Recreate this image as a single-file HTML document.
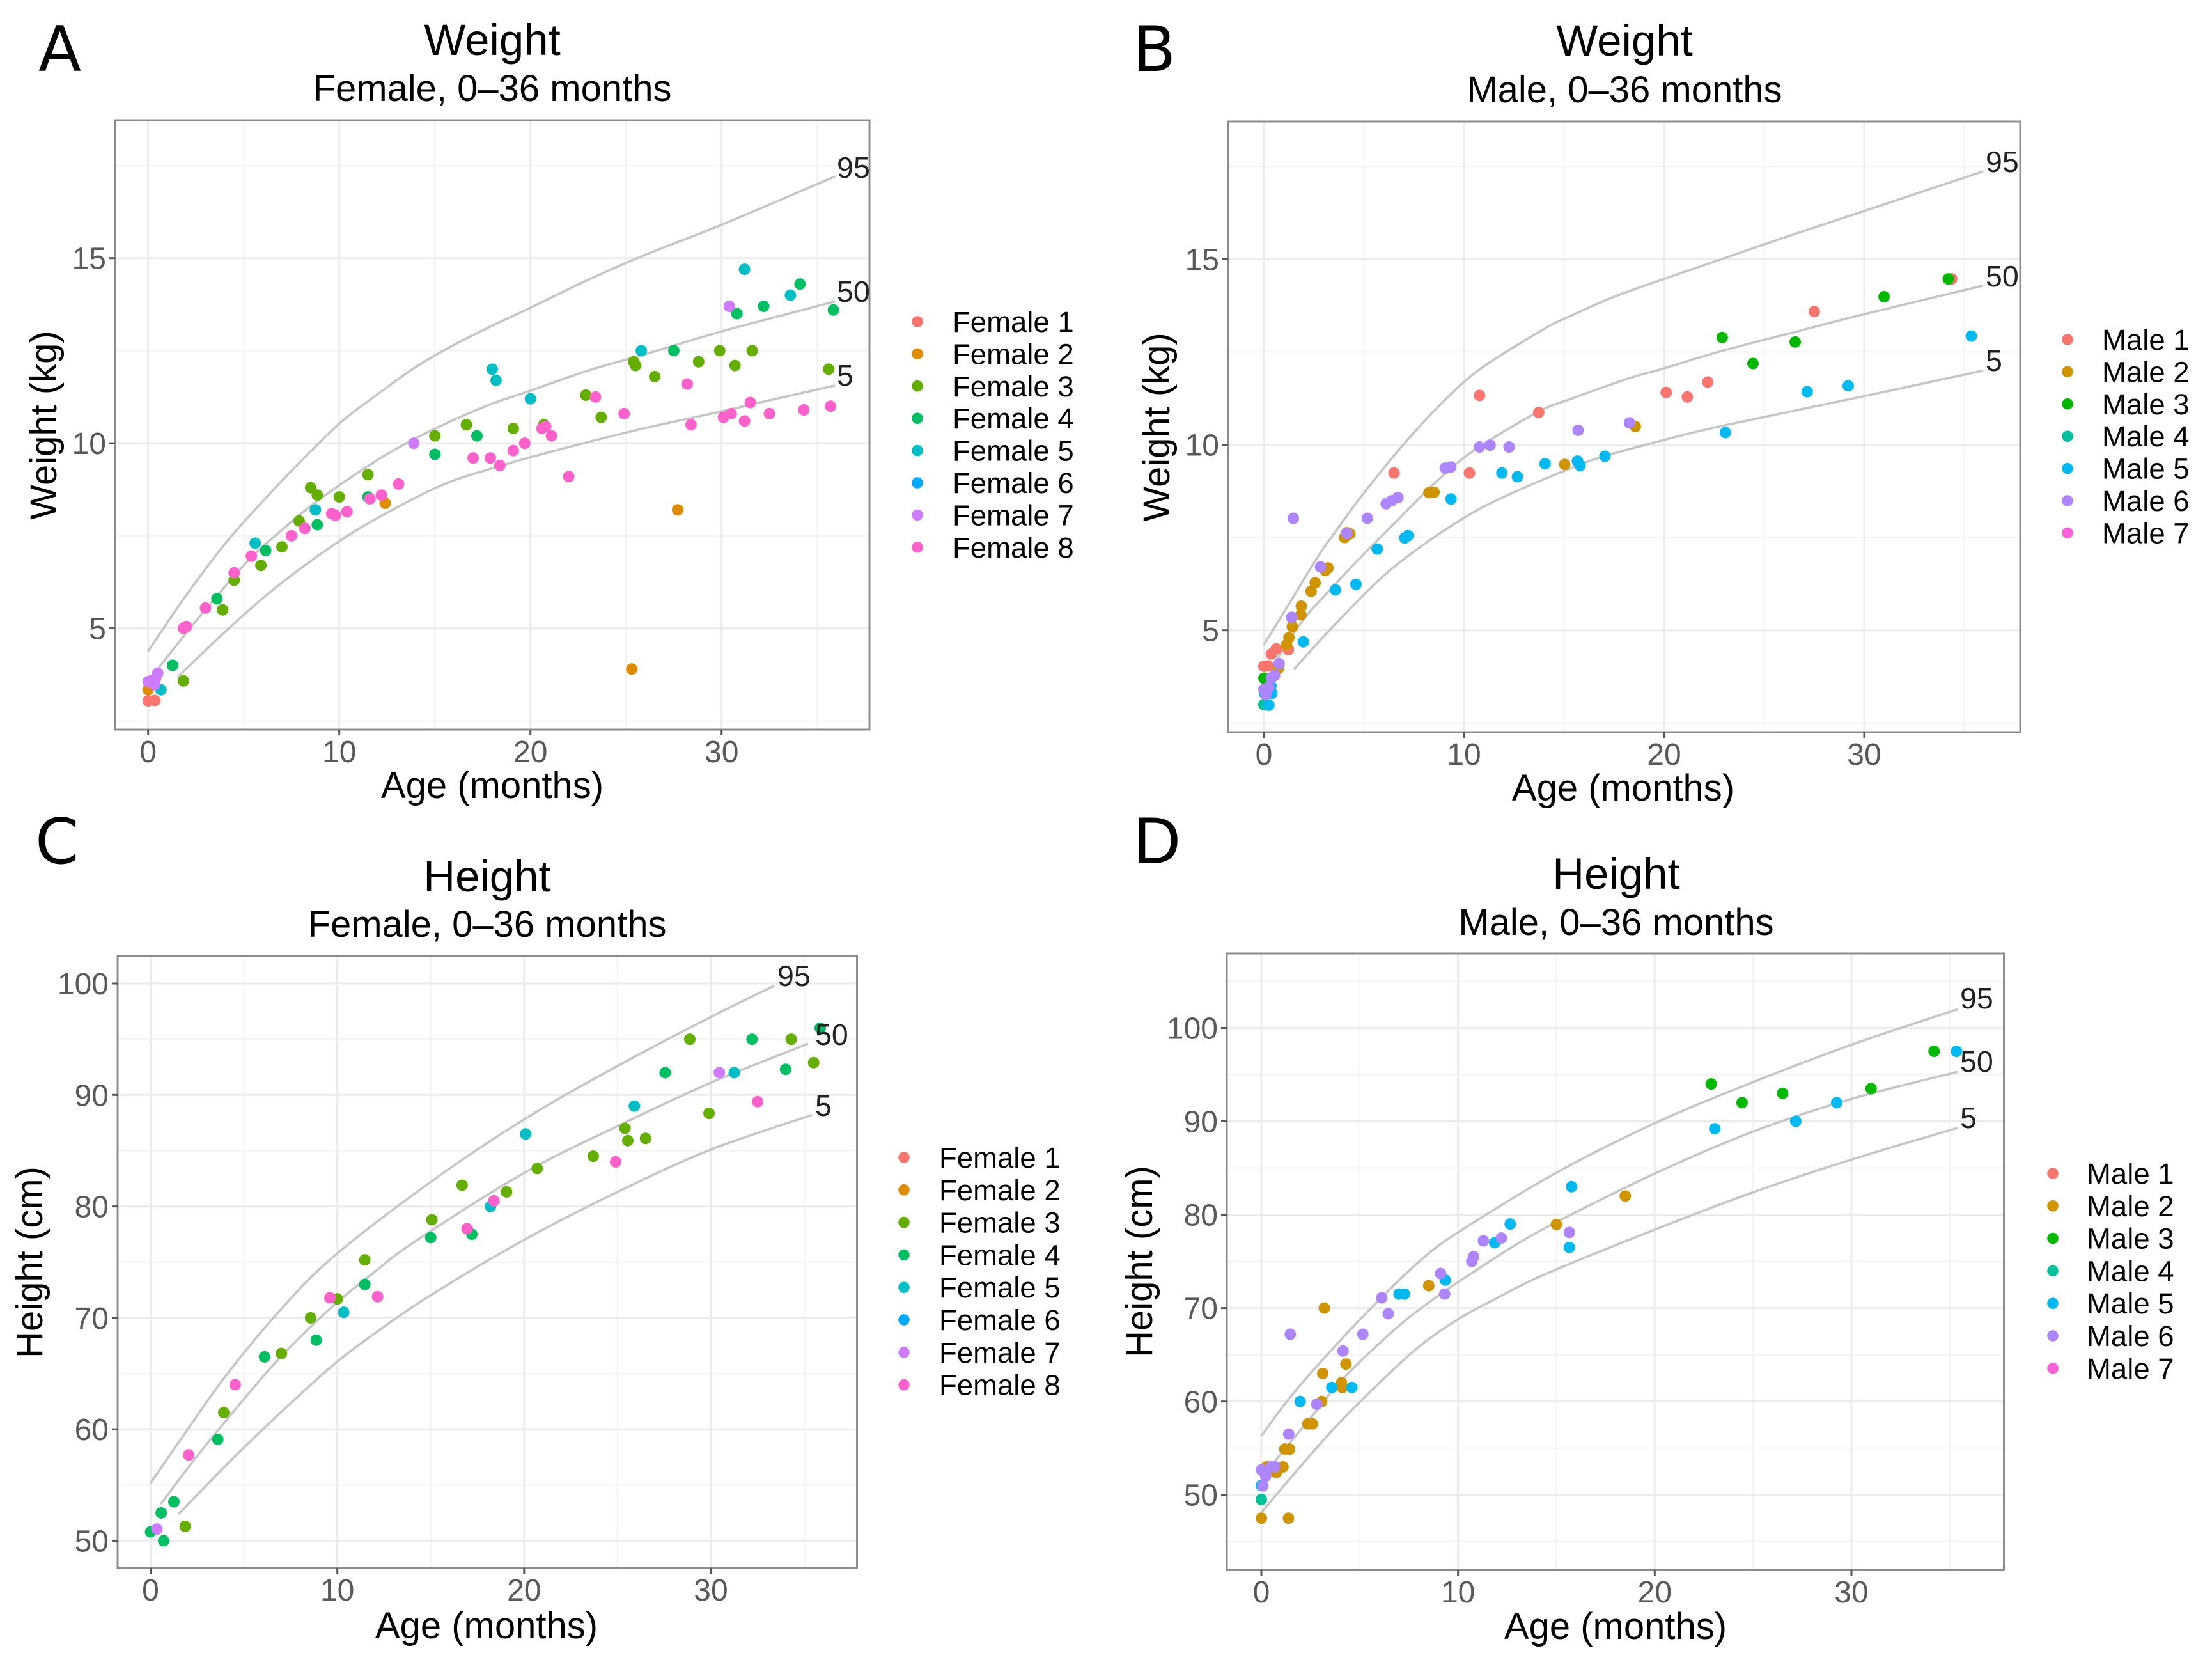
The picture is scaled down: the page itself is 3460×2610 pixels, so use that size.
<!DOCTYPE html>
<html lang="en">
<head>
<meta charset="utf-8">
<title>Growth charts: weight and height, 0–36 months</title>
<style>
html,body{margin:0;padding:0;background:#fff;}
svg{display:block;}
text{font-family:"Liberation Sans",sans-serif;fill:#000;}
.letter{font-family:"DejaVu Sans",sans-serif;font-size:98px;}
.title{font-size:69px;text-anchor:middle;}
.subtitle{font-size:58px;text-anchor:middle;}
.axis-title{font-size:58px;text-anchor:middle;}
.legend-label{font-size:45.5px;}
.curve-label{font-size:46.5px;fill:#222;}
.tick-label{font-size:48px;fill:#595959;}
</style>
</head>
<body>
<svg xmlns="http://www.w3.org/2000/svg" width="3460" height="2610" viewBox="0 0 3460 2610">
<rect width="3460" height="2610" fill="#fff"/>

<g>
  <text class="letter" x="60" y="111">A</text>
  <text class="title" x="770" y="86">Weight</text>
  <text class="subtitle" x="770" y="158">Female, 0–36 months</text>
  <g id="marks-a"></g>
  <text class="curve-label" x="1309" y="278">95</text>
  <text class="curve-label" x="1309" y="472">50</text>
  <text class="curve-label" x="1309" y="603">5</text>
  <text class="axis-title" x="770" y="1248">Age (months)</text>
  <text class="axis-title" transform="translate(88,665) rotate(-90)">Weight (kg)</text>
  <g>
    <g><circle cx="1435" cy="503" r="8.8" fill="#F8766D"/><text class="legend-label" x="1490" y="519">Female 1</text></g>
    <g><circle cx="1435" cy="553.4" r="8.8" fill="#DE8C00"/><text class="legend-label" x="1490" y="569.4">Female 2</text></g>
    <g><circle cx="1435" cy="603.8" r="8.8" fill="#64AE00"/><text class="legend-label" x="1490" y="619.8">Female 3</text></g>
    <g><circle cx="1435" cy="654.2" r="8.8" fill="#00BF63"/><text class="legend-label" x="1490" y="670.2">Female 4</text></g>
    <g><circle cx="1435" cy="704.6" r="8.8" fill="#00BFC4"/><text class="legend-label" x="1490" y="720.6">Female 5</text></g>
    <g><circle cx="1435" cy="755" r="8.8" fill="#00A9FF"/><text class="legend-label" x="1490" y="771">Female 6</text></g>
    <g><circle cx="1435" cy="805.4" r="8.8" fill="#CF7BFF"/><text class="legend-label" x="1490" y="821.4">Female 7</text></g>
    <g><circle cx="1435" cy="855.8" r="8.8" fill="#FF61CC"/><text class="legend-label" x="1490" y="871.8">Female 8</text></g>
  </g>
</g>

<g>
  <text class="letter" x="1772" y="111">B</text>
  <text class="title" x="2541" y="87">Weight</text>
  <text class="subtitle" x="2541" y="160">Male, 0–36 months</text>
  <g id="marks-b"></g>
  <text class="curve-label" x="3106" y="269">95</text>
  <text class="curve-label" x="3106" y="448">50</text>
  <text class="curve-label" x="3106" y="580">5</text>
  <text class="axis-title" x="2539" y="1252">Age (months)</text>
  <text class="axis-title" transform="translate(1829,668) rotate(-90)">Weight (kg)</text>
  <g>
    <g><circle cx="3234" cy="531" r="8.8" fill="#F8766D"/><text class="legend-label" x="3288" y="547">Male 1</text></g>
    <g><circle cx="3234" cy="581.4" r="8.8" fill="#CF9400"/><text class="legend-label" x="3288" y="597.4">Male 2</text></g>
    <g><circle cx="3234" cy="631.8" r="8.8" fill="#00B800"/><text class="legend-label" x="3288" y="647.8">Male 3</text></g>
    <g><circle cx="3234" cy="682.2" r="8.8" fill="#00C19A"/><text class="legend-label" x="3288" y="698.2">Male 4</text></g>
    <g><circle cx="3234" cy="732.6" r="8.8" fill="#00B9F0"/><text class="legend-label" x="3288" y="748.6">Male 5</text></g>
    <g><circle cx="3234" cy="783" r="8.8" fill="#AD85FF"/><text class="legend-label" x="3288" y="799">Male 6</text></g>
    <g><circle cx="3234" cy="833.4" r="8.8" fill="#FB61D7"/><text class="legend-label" x="3288" y="849.4">Male 7</text></g>
  </g>
</g>

<g>
  <text class="letter" x="55" y="1350">C</text>
  <text class="title" x="762" y="1394">Height</text>
  <text class="subtitle" x="762" y="1465">Female, 0–36 months</text>
  <g id="marks-c"></g>
  <text class="curve-label" x="1216" y="1542">95</text>
  <text class="curve-label" x="1275" y="1634">50</text>
  <text class="curve-label" x="1275" y="1745">5</text>
  <text class="axis-title" x="761" y="2562">Age (months)</text>
  <text class="axis-title" transform="translate(66,1974) rotate(-90)">Height (cm)</text>
  <g>
    <g><circle cx="1414" cy="1810" r="8.8" fill="#F8766D"/><text class="legend-label" x="1469" y="1826">Female 1</text></g>
    <g><circle cx="1414" cy="1860.8" r="8.8" fill="#DE8C00"/><text class="legend-label" x="1469" y="1876.8">Female 2</text></g>
    <g><circle cx="1414" cy="1911.6" r="8.8" fill="#64AE00"/><text class="legend-label" x="1469" y="1927.6">Female 3</text></g>
    <g><circle cx="1414" cy="1962.4" r="8.8" fill="#00BF63"/><text class="legend-label" x="1469" y="1978.4">Female 4</text></g>
    <g><circle cx="1414" cy="2013.2" r="8.8" fill="#00BFC4"/><text class="legend-label" x="1469" y="2029.2">Female 5</text></g>
    <g><circle cx="1414" cy="2064" r="8.8" fill="#00A9FF"/><text class="legend-label" x="1469" y="2080">Female 6</text></g>
    <g><circle cx="1414" cy="2114.8" r="8.8" fill="#CF7BFF"/><text class="legend-label" x="1469" y="2130.8">Female 7</text></g>
    <g><circle cx="1414" cy="2165.6" r="8.8" fill="#FF61CC"/><text class="legend-label" x="1469" y="2181.6">Female 8</text></g>
  </g>
</g>

<g>
  <text class="letter" x="1772" y="1350">D</text>
  <text class="title" x="2528" y="1390">Height</text>
  <text class="subtitle" x="2528" y="1462">Male, 0–36 months</text>
  <g id="marks-d"></g>
  <text class="curve-label" x="3066" y="1577">95</text>
  <text class="curve-label" x="3066" y="1676">50</text>
  <text class="curve-label" x="3066" y="1764">5</text>
  <text class="axis-title" x="2527" y="2563">Age (months)</text>
  <text class="axis-title" transform="translate(1802,1973) rotate(-90)">Height (cm)</text>
  <g>
    <g><circle cx="3211" cy="1835" r="8.8" fill="#F8766D"/><text class="legend-label" x="3264" y="1851">Male 1</text></g>
    <g><circle cx="3211" cy="1885.8" r="8.8" fill="#CF9400"/><text class="legend-label" x="3264" y="1901.8">Male 2</text></g>
    <g><circle cx="3211" cy="1936.6" r="8.8" fill="#00B800"/><text class="legend-label" x="3264" y="1952.6">Male 3</text></g>
    <g><circle cx="3211" cy="1987.4" r="8.8" fill="#00C19A"/><text class="legend-label" x="3264" y="2003.4">Male 4</text></g>
    <g><circle cx="3211" cy="2038.2" r="8.8" fill="#00B9F0"/><text class="legend-label" x="3264" y="2054.2">Male 5</text></g>
    <g><circle cx="3211" cy="2089" r="8.8" fill="#AD85FF"/><text class="legend-label" x="3264" y="2105">Male 6</text></g>
    <g><circle cx="3211" cy="2139.8" r="8.8" fill="#FB61D7"/><text class="legend-label" x="3264" y="2155.8">Male 7</text></g>
  </g>
</g>
</svg>

<script>
/* ---------- shared axis values ---------- */
const ageMajorTicks = [0, 10, 20, 30];
const ageMinorTicks = [5, 15, 25, 35];
const weightMajorTicks = [5, 10, 15];
const weightMinorTicks = [2.5, 7.5, 12.5, 17.5];
const heightMajorTicks = [50, 60, 70, 80, 90, 100];
const heightMinorTicksC = [55, 65, 75, 85, 95];
const heightMinorTicksD = [45, 55, 65, 75, 85, 95, 105];

/* ---------- Panel A: weight, female ---------- */
const aP95Age = [0, 1.62, 3.07, 4.29, 5.6, 7.66, 10, 11.76, 13.8, 15.86, 17.9, 20, 23, 26.1, 30, 35.94];
const aP95Kg = [4.38, 5.62, 6.65, 7.45, 8.21, 9.34, 10.53, 11.23, 11.99, 12.62, 13.15, 13.66, 14.41, 15.11, 15.9, 17.21];
const aP50Age = [0.56, 2.73, 5.18, 7.05, 8.9, 11.76, 13.8, 15.86, 17.9, 20, 23, 26.1, 30, 35.94];
const aP50Kg = [3.94, 5.34, 6.8, 7.68, 8.46, 9.47, 10.08, 10.6, 11.05, 11.42, 11.96, 12.42, 13.02, 13.83];
const aP5Age = [1.56, 3.85, 6.08, 8.3, 10.84, 13.8, 15.86, 18.3, 20, 23, 26.1, 30, 32.25, 35.94];
const aP5Kg = [3.69, 4.82, 5.85, 6.74, 7.63, 8.48, 8.97, 9.37, 9.62, 10.03, 10.42, 10.86, 11.13, 11.56];

const aF1Age = [0, 0.35];
const aF1Kg = [3.04, 3.05];
const aF2Age = [0, 12.4, 25.3, 27.7];
const aF2Kg = [3.34, 8.38, 3.9, 8.2];
const aF3Age = [1.85, 3.9, 4.5, 5.9, 7, 7.9, 8.5, 8.85, 10, 11.5, 15, 16.65, 19.1, 20.7, 22.9, 23.7, 25.4, 25.5, 26.5, 28.8, 29.9, 30.7, 31.6, 35.6];
const aF3Kg = [3.58, 5.5, 6.3, 6.7, 7.2, 7.9, 8.8, 8.6, 8.55, 9.15, 10.2, 10.5, 10.4, 10.5, 11.3, 10.7, 12.2, 12.1, 11.8, 12.2, 12.5, 12.1, 12.5, 12.0];
const aF4Age = [1.28, 3.6, 6.15, 8.85, 11.5, 15, 17.2, 27.5, 30.8, 32.2, 34.1, 35.85];
const aF4Kg = [4.0, 5.8, 7.1, 7.8, 8.55, 9.7, 10.2, 12.5, 13.5, 13.7, 14.3, 13.6];
const aF5Age = [0.67, 5.6, 8.75, 18, 18.2, 20, 25.8, 31.2, 33.6];
const aF5Kg = [3.34, 7.3, 8.2, 12.0, 11.7, 11.2, 12.5, 14.7, 14.0];
const aF6Age = [];
const aF6Kg = [];
const aF7Age = [0, 0.22, 0.33, 0.39, 0.5, 13.9, 30.4];
const aF7Kg = [3.56, 3.6, 3.48, 3.65, 3.79, 10, 13.7];
const aF8Age = [1.85, 2, 3, 4.5, 5.4, 7.5, 8.2, 9.6, 9.8, 10.4, 11.6, 12.2, 13.1, 17, 17.9, 18.4, 19.1, 19.7, 20.6, 20.8, 21.1, 22, 23.4, 24.9, 28.2, 28.4, 30.1, 30.5, 31.2, 31.5, 32.5, 34.3, 35.7];
const aF8Kg = [5.0, 5.05, 5.55, 6.5, 6.95, 7.5, 7.7, 8.1, 8.05, 8.15, 8.5, 8.6, 8.9, 9.6, 9.6, 9.4, 9.8, 10, 10.4, 10.45, 10.2, 9.1, 11.25, 10.8, 11.6, 10.5, 10.7, 10.8, 10.6, 11.1, 10.8, 10.9, 11.0];

/* ---------- Panel B: weight, male ---------- */
const bP95Age = [0, 1.15, 2.75, 3.5, 4.85, 6.95, 8.63, 10.7, 13.9, 15.36, 17.46, 20, 22.7, 25.86, 30, 35.95];
const bP95Kg = [4.61, 5.62, 7.03, 7.6, 8.6, 9.99, 10.98, 12, 13.09, 13.48, 13.98, 14.47, 14.97, 15.56, 16.3, 17.37];
const bP50Age = [0.4, 1.84, 3.18, 5, 6.7, 8.56, 10.5, 13.68, 15.36, 18.3, 20, 22.9, 26.9, 30, 35.95];
const bP50Kg = [4.0, 5.19, 6.02, 7.06, 7.98, 8.98, 9.85, 10.88, 11.24, 11.8, 12.06, 12.53, 13.09, 13.52, 14.29];
const bP5Age = [1.5, 3.45, 5.6, 7.2, 9.26, 11.15, 13.68, 15.78, 17, 20, 22.9, 30, 35.95];
const bP5Kg = [3.95, 5.1, 6.28, 7, 7.78, 8.38, 9.0, 9.46, 9.69, 10.13, 10.51, 11.31, 12];

const bM1Age = [0, 0.2, 0.37, 0.62, 1.22, 6.5, 10.27, 10.77, 13.73, 20.1, 21.16, 22.18, 27.5, 34.37];
const bM1Kg = [4.03, 4.04, 4.36, 4.5, 4.48, 9.24, 9.24, 11.33, 10.87, 11.41, 11.29, 11.69, 13.59, 14.47];
const bM2Age = [0.72, 1.13, 1.25, 1.42, 1.85, 1.87, 2.36, 2.56, 3.07, 3.2, 4.03, 4.14, 4.3, 8.25, 8.5, 15.03, 18.56];
const bM2Kg = [3.97, 4.61, 4.8, 5.1, 5.42, 5.65, 6.05, 6.28, 6.61, 6.68, 7.5, 7.63, 7.6, 8.71, 8.72, 9.47, 10.49];
const bM3Age = [0, 22.9, 24.44, 26.55, 30.99, 34.2];
const bM3Kg = [3.71, 12.89, 12.19, 12.77, 13.99, 14.47];
const bM4Age = [0];
const bM4Kg = [3.0];
const bM5Age = [0.25, 0.03, 0.35, 0.4, 1.97, 3.57, 4.6, 5.66, 7.04, 7.2, 9.35, 11.89, 12.67, 14.05, 15.67, 15.8, 17.04, 23.06, 27.15, 29.2, 35.35];
const bM5Kg = [2.98, 3.3, 3.5, 3.3, 4.69, 6.09, 6.24, 7.19, 7.49, 7.55, 8.54, 9.24, 9.14, 9.49, 9.56, 9.44, 9.69, 10.33, 11.43, 11.59, 12.93];
const bM6Age = [1.47, 5.17, 4.14, 2.83, 1.39, 0.76, 0.53, 0.37, 0, 0.25, 0.09, 6.11, 6.38, 6.7, 9.06, 9.34, 10.77, 11.3, 12.25, 15.7, 18.27];
const bM6Kg = [8.02, 8.02, 7.61, 6.71, 5.35, 4.1, 3.78, 3.72, 3.41, 3.47, 3.26, 8.41, 8.49, 8.58, 9.37, 9.4, 9.94, 9.99, 9.94, 10.39, 10.59];
const bM7Age = [];
const bM7Kg = [];

/* ---------- Panel C: height, female ---------- */
const cP95Age = [0, 2.03, 3.96, 6.58, 9.66, 15, 20, 25, 30, 33.4];
const cP95Cm = [55.18, 60.1, 64.65, 70.0, 75.3, 82.2, 87.8, 92.6, 97, 99.8];
const cP50Age = [0.55, 2.26, 4.3, 6.8, 9.66, 11.9, 14.2, 20, 25, 30, 35.2];
const cP50Cm = [53.3, 57.1, 61.3, 66.2, 70.9, 74.0, 76.9, 83, 87.2, 91.1, 94.6];
const cP5Age = [1.5, 4, 6.2, 9.66, 12.5, 15.35, 20, 25, 30, 35.4];
const cP5Cm = [52.4, 56.7, 60.3, 65.6, 69.2, 72.4, 77, 81.3, 85.1, 88.2];

const cF3Age = [1.85, 3.92, 7, 8.57, 10, 11.47, 15.06, 16.68, 19.06, 20.7, 23.7, 25.4, 25.55, 26.5, 28.87, 29.9, 34.3, 35.5];
const cF3Cm = [51.3, 61.5, 66.8, 70, 71.7, 75.2, 78.8, 81.9, 81.3, 83.4, 84.5, 87, 85.9, 86.1, 95, 88.35, 95, 92.9];
const cF4Age = [0, 0.57, 0.7, 1.25, 3.6, 6.1, 8.87, 11.47, 15, 17.2, 27.55, 32.2, 34, 35.85];
const cF4Cm = [50.8, 52.5, 50, 53.5, 59.1, 66.5, 68, 73, 77.2, 77.5, 92, 95, 92.3, 96];
const cF5Age = [10.34, 18.2, 20.08, 25.9, 31.25];
const cF5Cm = [70.5, 80, 86.5, 89, 92];
const cF7Age = [0.34, 30.45];
const cF7Cm = [51.05, 92];
const cF8Age = [2.04, 4.53, 9.6, 12.15, 16.94, 18.38, 24.9, 32.5];
const cF8Cm = [57.7, 64, 71.8, 71.9, 78, 80.5, 84, 89.4];

/* ---------- Panel D: height, male ---------- */
const dP95Age = [0, 1.52, 3.69, 5.86, 8.03, 10, 15, 20, 25, 30, 35.4];
const dP95Cm = [56.3, 60.6, 65.8, 70.6, 75, 78.1, 84.5, 89.8, 94.2, 98.2, 102];
const dP50Age = [0.65, 2.6, 4.23, 6.94, 9.11, 10.74, 12.8, 15, 20, 25, 30, 35.4];
const dP50Cm = [53.5, 58.5, 62.6, 68, 71.5, 73.8, 76.6, 79.2, 84.4, 88.9, 92.4, 95.3];
const dP5Age = [0, 1.52, 3.69, 5.86, 8.03, 10, 11.82, 14.5, 20, 25, 30, 35.4];
const dP5Cm = [48.1, 51.9, 57.1, 61.7, 65.9, 68.8, 70.9, 73.7, 78.4, 82.4, 85.9, 89.3];

const dM2Age = [0, 1.38, 0.76, 1.1, 0.27, 1.19, 1.43, 2.36, 2.6, 3.07, 3.12, 3.2, 4.07, 4.12, 4.3, 8.51, 15, 18.5];
const dM2Cm = [47.5, 47.5, 52.4, 53, 53, 54.9, 54.9, 57.6, 57.6, 60, 63, 70, 62, 61.5, 64, 72.4, 78.95, 82];
const dM3Age = [22.87, 24.44, 26.5, 31, 34.2];
const dM3Cm = [94, 92, 93, 93.5, 97.5];
const dM4Age = [0];
const dM4Cm = [49.5];
const dM5Age = [0, 1.97, 3.58, 4.6, 7, 7.27, 9.35, 11.86, 12.65, 15.66, 15.77, 23.05, 27.17, 29.25, 35.34];
const dM5Cm = [51, 60, 61.5, 61.5, 71.5, 71.5, 73, 77, 79, 76.5, 83, 89.2, 90, 92, 97.5];
const dM6Age = [0, 0.22, 0.08, 0.49, 0.67, 1.39, 1.47, 2.82, 4.15, 5.16, 6.12, 6.45, 9.11, 9.32, 10.7, 10.79, 11.29, 12.2, 15.66];
const dM6Cm = [52.67, 52, 50.96, 53, 53, 56.5, 67.2, 59.7, 65.4, 67.2, 71.1, 69.4, 73.7, 71.5, 75, 75.5, 77.2, 77.5, 78.1];

/* ---------- drawing ---------- */
const SVG_NS = 'http://www.w3.org/2000/svg';

function gridLine(root, x1, y1, x2, y2, major) {
  const el = document.createElementNS(SVG_NS, 'line');
  
  
  el.setAttribute('x1', x1);
  el.setAttribute('y1', y1);
  el.setAttribute('x2', x2);
  el.setAttribute('y2', y2);
  el.setAttribute('stroke', major ? '#ececec' : '#f4f4f4');
  el.setAttribute('stroke-width', major ? 3.2 : 2.4);
  root.appendChild(el);
}

function tickMark(root, x1, y1, x2, y2) {
  const el = document.createElementNS(SVG_NS, 'line');
  
  
  el.setAttribute('x1', x1);
  el.setAttribute('y1', y1);
  el.setAttribute('x2', x2);
  el.setAttribute('y2', y2);
  el.setAttribute('stroke', '#555');
  el.setAttribute('stroke-width', 3);
  root.appendChild(el);
}

function tickLabel(root, x, y, anchor, value) {
  const el = document.createElementNS(SVG_NS, 'text');
  
  
  el.setAttribute('class', 'tick-label');
  el.setAttribute('x', x);
  el.setAttribute('y', y);
  el.setAttribute('text-anchor', anchor);
  el.textContent = String(value);
  root.appendChild(el);
}

function smoothPath(px) {
  let d = 'M' + px[0][0].toFixed(1) + ' ' + px[0][1].toFixed(1);
  for (let i = 0; i < px.length - 1; i++) {
    const p0 = px[Math.max(0, i - 1)], p1 = px[i], p2 = px[i + 1], p3 = px[Math.min(px.length - 1, i + 2)];
    const c1x = p1[0] + (p2[0] - p0[0]) / 6, c1y = p1[1] + (p2[1] - p0[1]) / 6;
    const c2x = p2[0] - (p3[0] - p1[0]) / 6, c2y = p2[1] - (p3[1] - p1[1]) / 6;
    d += 'C' + c1x.toFixed(1) + ' ' + c1y.toFixed(1) + ' ' + c2x.toFixed(1) + ' ' + c2y.toFixed(1) + ' ' + p2[0].toFixed(1) + ' ' + p2[1].toFixed(1);
  }
  return d;
}

function drawPanel(cfg) {
  const root = document.getElementById(cfg.id);
  const xScale = v => cfg.x0 + (v - 0) * (cfg.x30 - cfg.x0) / 30;
  const yScale = v => cfg.yA + (v - cfg.vA) * (cfg.yB - cfg.yA) / (cfg.vB - cfg.vA);

  const bg = document.createElementNS(SVG_NS, 'rect');
  
  
  bg.setAttribute('x', cfg.left);
  bg.setAttribute('y', cfg.top);
  bg.setAttribute('width', cfg.right - cfg.left);
  bg.setAttribute('height', cfg.bottom - cfg.top);
  bg.setAttribute('fill', '#fff');
  root.appendChild(bg);

  cfg.xMinor.forEach(v => gridLine(root, xScale(v), cfg.top, xScale(v), cfg.bottom, false));
  cfg.yMinor.forEach(v => gridLine(root, cfg.left, yScale(v), cfg.right, yScale(v), false));
  cfg.xMajor.forEach(v => gridLine(root, xScale(v), cfg.top, xScale(v), cfg.bottom, true));
  cfg.yMajor.forEach(v => gridLine(root, cfg.left, yScale(v), cfg.right, yScale(v), true));

  cfg.curves.forEach(c => {
    const px = c.age.map((a, i) => [xScale(a), yScale(c.val[i])]);
    const path = document.createElementNS(SVG_NS, 'path');
    
    
    path.setAttribute('d', smoothPath(px));
    path.setAttribute('fill', 'none');
    path.setAttribute('stroke', '#c6c6c6');
    path.setAttribute('stroke-width', 3.6);
    root.appendChild(path);
  });

  cfg.series.forEach(s => {
    s.age.forEach((a, i) => {
      const dot = document.createElementNS(SVG_NS, 'circle');
      
      
      dot.setAttribute('cx', xScale(a));
      dot.setAttribute('cy', yScale(s.val[i]));
      dot.setAttribute('r', 9);
      dot.setAttribute('fill', s.color);
      root.appendChild(dot);
    });
  });

  const border = document.createElementNS(SVG_NS, 'rect');
  
  
  border.setAttribute('x', cfg.left);
  border.setAttribute('y', cfg.top);
  border.setAttribute('width', cfg.right - cfg.left);
  border.setAttribute('height', cfg.bottom - cfg.top);
  border.setAttribute('fill', 'none');
  border.setAttribute('stroke', '#8c8c8c');
  border.setAttribute('stroke-width', 3);
  root.appendChild(border);

  cfg.xMajor.forEach(v => {
    tickMark(root, xScale(v), cfg.bottom, xScale(v), cfg.bottom + 9);
    tickLabel(root, xScale(v), cfg.bottom + 51, 'middle', v);
  });
  cfg.yMajor.forEach(v => {
    tickMark(root, cfg.left - 9, yScale(v), cfg.left, yScale(v));
    tickLabel(root, cfg.left - 14, yScale(v) + 17, 'end', v);
  });
}

const femaleColors = ['#F8766D', '#DE8C00', '#64AE00', '#00BF63', '#00BFC4', '#00A9FF', '#CF7BFF', '#FF61CC'];
const maleColors = ['#F8766D', '#CF9400', '#00B800', '#00C19A', '#00B9F0', '#AD85FF', '#FB61D7'];

drawPanel({
  id: 'marks-a', left: 180, right: 1360, top: 188, bottom: 1141,
  x0: 231.7, x30: 1128.7, vA: 5, yA: 982.6, vB: 15, yB: 403.7,
  xMajor: ageMajorTicks, xMinor: ageMinorTicks, yMajor: weightMajorTicks, yMinor: weightMinorTicks,
  curves: [{age: aP95Age, val: aP95Kg}, {age: aP50Age, val: aP50Kg}, {age: aP5Age, val: aP5Kg}],
  series: [
    {age: aF1Age, val: aF1Kg, color: femaleColors[0]},
    {age: aF2Age, val: aF2Kg, color: femaleColors[1]},
    {age: aF3Age, val: aF3Kg, color: femaleColors[2]},
    {age: aF4Age, val: aF4Kg, color: femaleColors[3]},
    {age: aF5Age, val: aF5Kg, color: femaleColors[4]},
    {age: aF6Age, val: aF6Kg, color: femaleColors[5]},
    {age: aF7Age, val: aF7Kg, color: femaleColors[6]},
    {age: aF8Age, val: aF8Kg, color: femaleColors[7]}
  ]
});

drawPanel({
  id: 'marks-b', left: 1921, right: 3160, top: 190, bottom: 1145,
  x0: 1977, x30: 2916, vA: 5, yA: 985.7, vB: 15, yB: 405.4,
  xMajor: ageMajorTicks, xMinor: ageMinorTicks, yMajor: weightMajorTicks, yMinor: weightMinorTicks,
  curves: [{age: bP95Age, val: bP95Kg}, {age: bP50Age, val: bP50Kg}, {age: bP5Age, val: bP5Kg}],
  series: [
    {age: bM1Age, val: bM1Kg, color: maleColors[0]},
    {age: bM2Age, val: bM2Kg, color: maleColors[1]},
    {age: bM3Age, val: bM3Kg, color: maleColors[2]},
    {age: bM4Age, val: bM4Kg, color: maleColors[3]},
    {age: bM5Age, val: bM5Kg, color: maleColors[4]},
    {age: bM6Age, val: bM6Kg, color: maleColors[5]},
    {age: bM7Age, val: bM7Kg, color: maleColors[6]}
  ]
});

drawPanel({
  id: 'marks-c', left: 184, right: 1340.5, top: 1495, bottom: 2452,
  x0: 235.5, x30: 1112, vA: 50, yA: 2409.5, vB: 100, yB: 1538,
  xMajor: ageMajorTicks, xMinor: ageMinorTicks, yMajor: heightMajorTicks, yMinor: heightMinorTicksC,
  curves: [{age: cP95Age, val: cP95Cm}, {age: cP50Age, val: cP50Cm}, {age: cP5Age, val: cP5Cm}],
  series: [
    {age: cF3Age, val: cF3Cm, color: femaleColors[2]},
    {age: cF4Age, val: cF4Cm, color: femaleColors[3]},
    {age: cF5Age, val: cF5Cm, color: femaleColors[4]},
    {age: cF7Age, val: cF7Cm, color: femaleColors[6]},
    {age: cF8Age, val: cF8Cm, color: femaleColors[7]}
  ]
});

drawPanel({
  id: 'marks-d', left: 1919, right: 3134.5, top: 1491, bottom: 2455,
  x0: 1973, x30: 2896, vA: 50, yA: 2337.7, vB: 100, yB: 1607.5,
  xMajor: ageMajorTicks, xMinor: ageMinorTicks, yMajor: heightMajorTicks, yMinor: heightMinorTicksD,
  curves: [{age: dP95Age, val: dP95Cm}, {age: dP50Age, val: dP50Cm}, {age: dP5Age, val: dP5Cm}],
  series: [
    {age: dM2Age, val: dM2Cm, color: maleColors[1]},
    {age: dM3Age, val: dM3Cm, color: maleColors[2]},
    {age: dM4Age, val: dM4Cm, color: maleColors[3]},
    {age: dM5Age, val: dM5Cm, color: maleColors[4]},
    {age: dM6Age, val: dM6Cm, color: maleColors[5]}
  ]
});
</script>
</body>
</html>
